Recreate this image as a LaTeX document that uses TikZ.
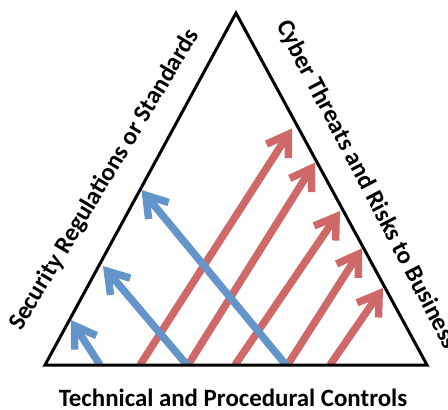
\documentclass[tikz,border=0pt]{standalone}
\usepackage{fontspec}
\setmainfont{Carlito}
\usetikzlibrary{arrows.meta}

\definecolor{ctrlblue}{RGB}{99,149,202}
\definecolor{threatred}{RGB}{207,104,104}

\tikzset{
  side/.style={draw=black, line width=3pt, line join=miter},
  pointer/.style={line width=7.5pt, -{Straight Barb[length=20pt, width=26pt]}},
  regarrow/.style={pointer, draw=ctrlblue},
  riskarrow/.style={pointer, draw=threatred},
  caption/.style={font=\fontsize{24.9}{30}\selectfont\bfseries, inner sep=0pt}
}

\begin{document}
\begin{tikzpicture}[x=1pt, y=-1pt]
  \useasboundingbox (0,0) rectangle (448,410);

  % corners of the triangle
  \coordinate (apex) at (236,13);
  \coordinate (bl) at (45,365);
  \coordinate (br) at (427,365);

  % arrow end points
  \coordinate (b1s) at (100,365);   \coordinate (b1t) at (71,320);
  \coordinate (b2s) at (187,365);   \coordinate (b2t) at (103,266);
  \coordinate (b3s) at (286,365);   \coordinate (b3t) at (141.5,190);

  \coordinate (r1s) at (140,365);   \coordinate (r1t) at (292,128.5);
  \coordinate (r2s) at (188,365);   \coordinate (r2t) at (315,162.5);
  \coordinate (r3s) at (235,365);   \coordinate (r3t) at (340,211);
  \coordinate (r4s) at (287.5,365); \coordinate (r4t) at (362,248.3);
  \coordinate (r5s) at (330,365);   \coordinate (r5t) at (383,288);

  \begin{scope}
    \clip (0,0) rectangle (448,365);
    % red arrows towards the threats side
    \draw[riskarrow] (r1s) -- (r1t);
    \draw[riskarrow] (r2s) -- (r2t);
    \draw[riskarrow] (r3s) -- (r3t);
    \draw[riskarrow] (r4s) -- (r4t);
    \draw[riskarrow] (r5s) -- (r5t);
    % blue arrows towards the regulations side
    \draw[regarrow] (b1s) -- (b1t);
    \draw[regarrow] (b2s) -- (b2t);
    \draw[regarrow] (b3s) -- (b3t);
  \end{scope}

  % triangle
  \draw[side] (bl) -- (apex) -- (br) -- cycle;

  % side captions
  \node[caption, rotate=59, anchor=base west] (regs) at (21,332)
    {Security Regulations or Standards};
  \node[caption, rotate=-62.5, anchor=base west] (threats) at (276,25)
    {Cyber Threats and Risks to Business};
  \node[caption, anchor=base] (controls) at (233,406.5)
    {Technical and Procedural Controls};
\end{tikzpicture}
\end{document}
